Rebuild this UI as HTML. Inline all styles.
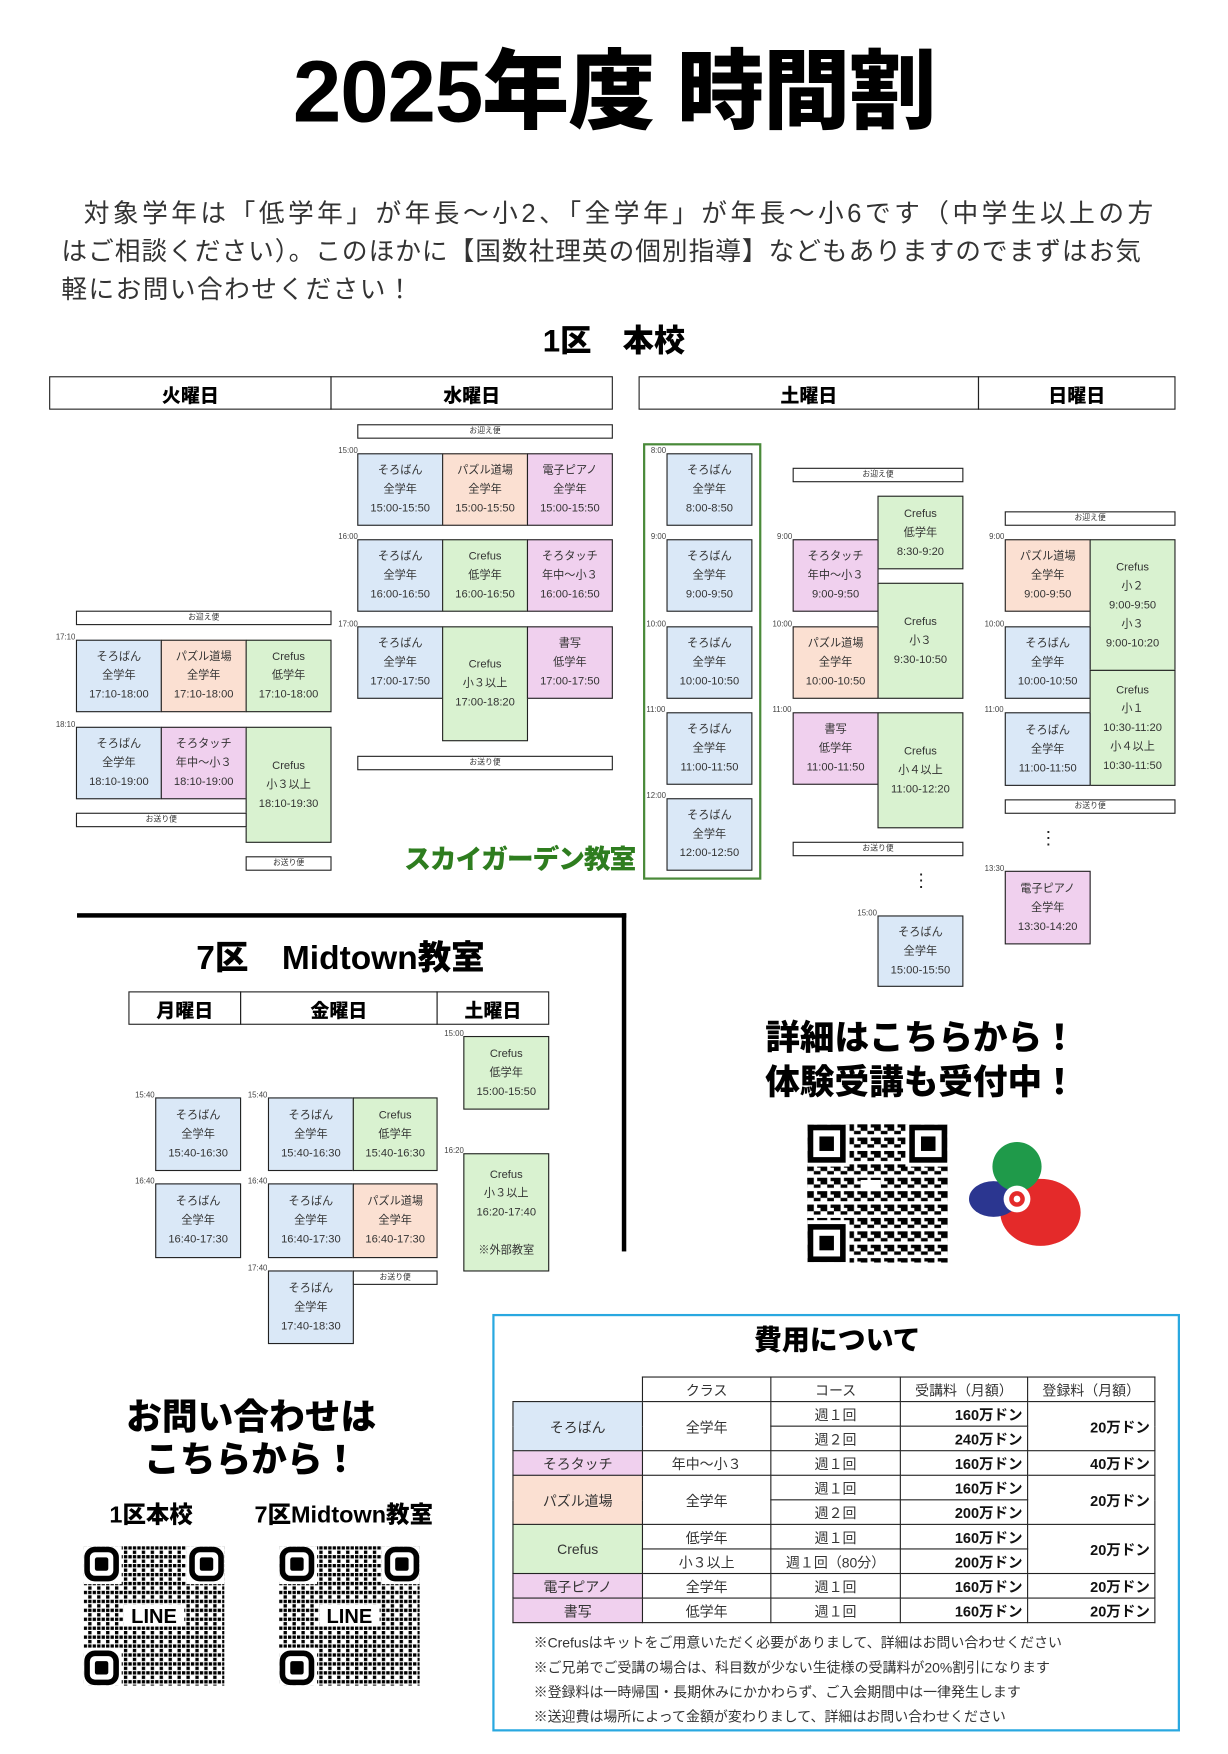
<!DOCTYPE html>
<html><head><meta charset="utf-8">
<style>
html,body{margin:0;padding:0;background:#fff;width:1228px;height:1754px;overflow:hidden}
#w{position:absolute;left:0;top:0;width:1100px;height:1571px;transform:scale(1.11636);transform-origin:0 0;font-family:"Liberation Sans","Noto Sans CJK JP",sans-serif;color:#222}
.a{position:absolute}
.b{position:absolute;box-sizing:border-box;border:1.3px solid #222;display:flex;flex-direction:column;justify-content:center;align-items:center;font-size:10px;line-height:17px;color:#333;text-align:center}
.BL{background:#dae8f7}.OR{background:#fbe0d2}.PK{background:#f0d0ee}.GR{background:#d9f2d0}
.bus{position:absolute;box-sizing:border-box;border:1.2px solid #222;height:13px;font-size:7px;line-height:11px;text-align:center;color:#333;background:#fff}
.t{position:absolute;font-size:7px;color:#444}
.h{position:absolute;box-sizing:border-box;border:1.3px solid #222;display:flex;align-items:center;justify-content:center;font-weight:900;font-size:17px;color:#000}
.hv{font-weight:900;color:#000;font-family:"Liberation Sans","Noto Sans CJK JP",sans-serif}
.p{position:absolute;font-size:23px;color:#333;white-space:nowrap}
.j{text-align:justify;text-align-last:justify;white-space:normal}
table.f{position:absolute;left:459px;top:1233px;border-collapse:collapse;font-size:12.5px;color:#333}
table.f td{border:1.3px solid #222;height:21px;padding:0;text-align:center}
table.f td.r{text-align:right;font-weight:700;padding-right:4px;color:#111;font-size:13px}
.n{position:absolute;left:478px;font-size:12.5px;color:#333;white-space:nowrap}
</style></head><body><div id="w">

<div class="a hv" style="left:0;width:1100px;top:34px;text-align:center;font-size:78px;line-height:96px;letter-spacing:-1px">2025年度 時間割</div>

<div class="p j" style="top:172px;left:75px;width:958px">対象学年は「低学年」が年長～小2、「全学年」が年長～小6です（中学生以上の方</div>
<div class="p j" style="top:206px;left:55px;width:967px">はご相談ください）。このほかに【国数社理英の個別指導】などもありますのでまずはお気</div>
<div class="p" style="top:240px;left:55px;letter-spacing:1.3px">軽にお問い合わせください！</div>

<div class="a hv" style="left:450px;width:200px;top:288px;text-align:center;font-size:28px;line-height:36px">1区　本校</div>

<div class="h" style="left:44px;top:337px;width:253px;height:30px">火曜日</div>
<div class="h" style="left:296px;top:337px;width:253px;height:30px">水曜日</div>
<div class="h" style="left:572px;top:337px;width:305px;height:30px">土曜日</div>
<div class="h" style="left:876px;top:337px;width:177px;height:30px">日曜日</div>

<!-- Tue -->
<div class="bus" style="left:68px;top:547px;width:229px">お迎え便</div>
<div class="t" style="left:50px;top:568px">17:10</div>
<div class="b BL" style="left:68px;top:573px;width:77px;height:65px">そろばん<br>全学年<br>17:10-18:00</div>
<div class="b OR" style="left:144px;top:573px;width:77px;height:65px">パズル道場<br>全学年<br>17:10-18:00</div>
<div class="b GR" style="left:220px;top:573px;width:77px;height:65px">Crefus<br>低学年<br>17:10-18:00</div>
<div class="t" style="left:50px;top:646px">18:10</div>
<div class="b BL" style="left:68px;top:651px;width:77px;height:65px">そろばん<br>全学年<br>18:10-19:00</div>
<div class="b PK" style="left:144px;top:651px;width:77px;height:65px">そろタッチ<br>年中～小３<br>18:10-19:00</div>
<div class="b GR" style="left:220px;top:651px;width:77px;height:104px">Crefus<br>小３以上<br>18:10-19:30</div>
<div class="bus" style="left:68px;top:728px;width:153px">お送り便</div>
<div class="bus" style="left:220px;top:767px;width:77px">お送り便</div>

<!-- Wed -->
<div class="bus" style="left:320px;top:380px;width:229px">お迎え便</div>
<div class="t" style="left:303px;top:401px">15:00</div>
<div class="b BL" style="left:320px;top:406px;width:77px;height:65px">そろばん<br>全学年<br>15:00-15:50</div>
<div class="b OR" style="left:396px;top:406px;width:77px;height:65px">パズル道場<br>全学年<br>15:00-15:50</div>
<div class="b PK" style="left:472px;top:406px;width:77px;height:65px">電子ピアノ<br>全学年<br>15:00-15:50</div>
<div class="t" style="left:303px;top:478px">16:00</div>
<div class="b BL" style="left:320px;top:483px;width:77px;height:65px">そろばん<br>全学年<br>16:00-16:50</div>
<div class="b GR" style="left:396px;top:483px;width:77px;height:65px">Crefus<br>低学年<br>16:00-16:50</div>
<div class="b PK" style="left:472px;top:483px;width:77px;height:65px">そろタッチ<br>年中～小３<br>16:00-16:50</div>
<div class="t" style="left:303px;top:556px">17:00</div>
<div class="b BL" style="left:320px;top:561px;width:77px;height:65px">そろばん<br>全学年<br>17:00-17:50</div>
<div class="b GR" style="left:396px;top:561px;width:77px;height:103px">Crefus<br>小３以上<br>17:00-18:20</div>
<div class="b PK" style="left:472px;top:561px;width:77px;height:65px">書写<br>低学年<br>17:00-17:50</div>
<div class="bus" style="left:320px;top:677px;width:229px">お送り便</div>

<div class="a hv" style="left:362px;top:754px;font-size:24px;line-height:34px;color:#2e7d1f;letter-spacing:-1px">スカイガーデン教室</div>

<!-- Sat -->
<div class="a" style="left:576px;top:397px;width:102px;height:387px;border:2px solid #4a8a3a"></div>
<div class="t" style="left:583px;top:401px">8:00</div>
<div class="b BL" style="left:597px;top:406px;width:77px;height:65px">そろばん<br>全学年<br>8:00-8:50</div>
<div class="t" style="left:583px;top:478px">9:00</div>
<div class="b BL" style="left:597px;top:483px;width:77px;height:65px">そろばん<br>全学年<br>9:00-9:50</div>
<div class="t" style="left:579px;top:556px">10:00</div>
<div class="b BL" style="left:597px;top:561px;width:77px;height:65px">そろばん<br>全学年<br>10:00-10:50</div>
<div class="t" style="left:579px;top:633px">11:00</div>
<div class="b BL" style="left:597px;top:638px;width:77px;height:65px">そろばん<br>全学年<br>11:00-11:50</div>
<div class="t" style="left:579px;top:710px">12:00</div>
<div class="b BL" style="left:597px;top:715px;width:77px;height:65px">そろばん<br>全学年<br>12:00-12:50</div>

<div class="bus" style="left:710px;top:419px;width:153px">お迎え便</div>
<div class="b GR" style="left:786px;top:444px;width:77px;height:66px">Crefus<br>低学年<br>8:30-9:20</div>
<div class="t" style="left:696px;top:478px">9:00</div>
<div class="b PK" style="left:710px;top:483px;width:77px;height:65px">そろタッチ<br>年中～小３<br>9:00-9:50</div>
<div class="b GR" style="left:786px;top:522px;width:77px;height:104px">Crefus<br>小３<br>9:30-10:50</div>
<div class="t" style="left:692px;top:556px">10:00</div>
<div class="b OR" style="left:710px;top:561px;width:77px;height:65px">パズル道場<br>全学年<br>10:00-10:50</div>
<div class="t" style="left:692px;top:633px">11:00</div>
<div class="b PK" style="left:710px;top:638px;width:77px;height:65px">書写<br>低学年<br>11:00-11:50</div>
<div class="b GR" style="left:786px;top:638px;width:77px;height:104px">Crefus<br>小４以上<br>11:00-12:20</div>
<div class="bus" style="left:710px;top:754px;width:153px">お送り便</div>
<div class="a" style="left:817px;top:780px;font-size:16px;line-height:20px">⋮</div>
<div class="t" style="left:768px;top:815px">15:00</div>
<div class="b BL" style="left:786px;top:820px;width:77px;height:64px">そろばん<br>全学年<br>15:00-15:50</div>

<!-- Sun -->
<div class="bus" style="left:900px;top:458px;width:153px">お迎え便</div>
<div class="t" style="left:886px;top:478px">9:00</div>
<div class="b OR" style="left:900px;top:483px;width:77px;height:65px">パズル道場<br>全学年<br>9:00-9:50</div>
<div class="b GR" style="left:976px;top:483px;width:77px;height:118px">Crefus<br>小２<br>9:00-9:50<br>小３<br>9:00-10:20</div>
<div class="t" style="left:882px;top:556px">10:00</div>
<div class="b BL" style="left:900px;top:561px;width:77px;height:65px">そろばん<br>全学年<br>10:00-10:50</div>
<div class="b GR" style="left:976px;top:600px;width:77px;height:104px">Crefus<br>小１<br>10:30-11:20<br>小４以上<br>10:30-11:50</div>
<div class="t" style="left:882px;top:633px">11:00</div>
<div class="b BL" style="left:900px;top:638px;width:77px;height:66px">そろばん<br>全学年<br>11:00-11:50</div>
<div class="bus" style="left:900px;top:716px;width:153px">お送り便</div>
<div class="a" style="left:931px;top:742px;font-size:16px;line-height:20px">⋮</div>
<div class="t" style="left:882px;top:775px">13:30</div>
<div class="b PK" style="left:900px;top:780px;width:77px;height:66px">電子ピアノ<br>全学年<br>13:30-14:20</div>

<!-- Midtown -->
<div class="a" style="left:69px;top:818px;width:492px;height:4px;background:#000"></div>
<div class="a" style="left:557px;top:818px;width:4px;height:303px;background:#000"></div>
<div class="a hv" style="left:120px;width:370px;top:838px;text-align:center;font-size:30px;line-height:42px">7区　Midtown教室</div>
<div class="h" style="left:115px;top:888px;width:101px;height:30px">月曜日</div>
<div class="h" style="left:215px;top:888px;width:177px;height:30px">金曜日</div>
<div class="h" style="left:391px;top:888px;width:101px;height:30px">土曜日</div>

<div class="t" style="left:121px;top:978px">15:40</div>
<div class="b BL" style="left:139px;top:983px;width:77px;height:66px">そろばん<br>全学年<br>15:40-16:30</div>
<div class="t" style="left:121px;top:1055px">16:40</div>
<div class="b BL" style="left:139px;top:1060px;width:77px;height:67px">そろばん<br>全学年<br>16:40-17:30</div>
<div class="t" style="left:222px;top:978px">15:40</div>
<div class="b BL" style="left:240px;top:983px;width:77px;height:66px">そろばん<br>全学年<br>15:40-16:30</div>
<div class="b GR" style="left:316px;top:983px;width:76px;height:66px">Crefus<br>低学年<br>15:40-16:30</div>
<div class="t" style="left:222px;top:1055px">16:40</div>
<div class="b BL" style="left:240px;top:1060px;width:77px;height:67px">そろばん<br>全学年<br>16:40-17:30</div>
<div class="b OR" style="left:316px;top:1060px;width:76px;height:67px">パズル道場<br>全学年<br>16:40-17:30</div>
<div class="t" style="left:222px;top:1133px">17:40</div>
<div class="b BL" style="left:240px;top:1138px;width:77px;height:66px">そろばん<br>全学年<br>17:40-18:30</div>
<div class="bus" style="left:316px;top:1138px;width:76px">お送り便</div>
<div class="t" style="left:398px;top:923px">15:00</div>
<div class="b GR" style="left:415px;top:928px;width:77px;height:66px">Crefus<br>低学年<br>15:00-15:50</div>
<div class="t" style="left:398px;top:1028px">16:20</div>
<div class="b GR" style="left:415px;top:1033px;width:77px;height:106px">Crefus<br>小３以上<br>16:20-17:40<br><br>※外部教室</div>

<!-- Right promo -->
<div class="a hv" style="left:670px;width:310px;top:910px;text-align:center;font-size:31px;line-height:40px">詳細はこちらから！<br>体験受講も受付中！</div>
<svg class="a" style="left:723px;top:1007px" width="126" height="124" viewBox="0 0 126 124">
<defs><pattern id="q1" width="12" height="12" patternUnits="userSpaceOnUse"><rect x="0" y="0" width="6" height="6" fill="#000"/><rect x="6" y="6" width="6" height="3" fill="#000"/><rect x="9" y="0" width="3" height="3" fill="#000"/></pattern></defs>
<rect x="0" y="0" width="126" height="124" fill="url(#q1)"/>
<g fill="#fff"><rect x="0" y="0" width="38" height="38"/><rect x="88" y="0" width="38" height="38"/><rect x="0" y="86" width="38" height="38"/><rect x="48" y="50" width="18" height="10"/></g>
<g fill="none" stroke="#000" stroke-width="5"><rect x="3" y="3" width="29" height="29"/><rect x="94" y="3" width="29" height="29"/><rect x="3" y="92" width="29" height="29"/></g>
<g fill="#000"><rect x="11" y="11" width="13" height="13"/><rect x="102" y="11" width="13" height="13"/><rect x="11" y="100" width="13" height="13"/></g>
</svg>
<svg class="a" style="left:862px;top:1022px" width="110" height="96" viewBox="0 0 110 96">
<ellipse cx="70" cy="64" rx="36" ry="30" fill="#e42a2a"/>
<ellipse cx="28" cy="52" rx="22" ry="16" fill="#2b3690"/>
<circle cx="49" cy="23" r="22" fill="#1f9a4a"/>
<circle cx="49" cy="52" r="12" fill="#fff"/>
<circle cx="49" cy="52" r="7" fill="#e42a2a"/>
<circle cx="49" cy="52" r="3" fill="#fff"/>
</svg>

<!-- Fee box -->
<div class="a" style="left:441px;top:1177px;width:612px;height:370px;border:2px solid #29a8e0"></div>
<div class="a hv" style="left:600px;width:300px;top:1184px;text-align:center;font-size:25px;line-height:34px">費用について</div>
<table class="f">
<colgroup><col style="width:116px"><col style="width:115px"><col style="width:116px"><col style="width:114px"><col style="width:114px"></colgroup>
<tr><td style="border:none;border-bottom:1.3px solid #222"></td><td>クラス</td><td>コース</td><td>受講料（月額）</td><td>登録料（月額）</td></tr>
<tr><td rowspan="2" class="BL">そろばん</td><td rowspan="2">全学年</td><td>週１回</td><td class="r">160万ドン</td><td rowspan="2" class="r">20万ドン</td></tr>
<tr><td>週２回</td><td class="r">240万ドン</td></tr>
<tr><td class="PK">そろタッチ</td><td>年中～小３</td><td>週１回</td><td class="r">160万ドン</td><td class="r">40万ドン</td></tr>
<tr><td rowspan="2" class="OR">パズル道場</td><td rowspan="2">全学年</td><td>週１回</td><td class="r">160万ドン</td><td rowspan="2" class="r">20万ドン</td></tr>
<tr><td>週２回</td><td class="r">200万ドン</td></tr>
<tr><td rowspan="2" class="GR">Crefus</td><td>低学年</td><td>週１回</td><td class="r">160万ドン</td><td rowspan="2" class="r">20万ドン</td></tr>
<tr><td>小３以上</td><td>週１回（80分）</td><td class="r">200万ドン</td></tr>
<tr><td class="PK">電子ピアノ</td><td>全学年</td><td>週１回</td><td class="r">160万ドン</td><td class="r">20万ドン</td></tr>
<tr><td class="PK">書写</td><td>低学年</td><td>週１回</td><td class="r">160万ドン</td><td class="r">20万ドン</td></tr>
</table>
<div class="n" style="top:1461px">※Crefusはキットをご用意いただく必要がありまして、詳細はお問い合わせください</div>
<div class="n" style="top:1483px">※ご兄弟でご受講の場合は、科目数が少ない生徒様の受講料が20%割引になります</div>
<div class="n" style="top:1505px">※登録料は一時帰国・長期休みにかかわらず、ご入会期間中は一律発生します</div>
<div class="n" style="top:1527px">※送迎費は場所によって金額が変わりまして、詳細はお問い合わせください</div>

<!-- Contact -->
<div class="a hv" style="left:90px;width:270px;top:1250px;text-align:center;font-size:32px;line-height:38px">お問い合わせは<br>こちらから！</div>
<div class="a hv" style="left:98px;top:1344px;font-size:21px;line-height:28px">1区本校</div>
<div class="a hv" style="left:228px;top:1344px;font-size:21px;line-height:28px">7区Midtown教室</div>
<svg class="a" style="left:75px;top:1385px" width="126" height="125" viewBox="0 0 126 125">
<defs><pattern id="q2" width="8" height="8" patternUnits="userSpaceOnUse"><rect x="0" y="0" width="3" height="3" fill="#000"/><rect x="4" y="4" width="3" height="3" fill="#000"/><rect x="4" y="0" width="3" height="3" fill="#000"/></pattern></defs>
<rect width="126" height="125" fill="url(#q2)"/>
<g fill="#fff"><rect width="34" height="34"/><rect x="92" width="34" height="34"/><rect y="91" width="34" height="34"/><rect x="36" y="52" width="54" height="20"/></g>
<g fill="none" stroke="#000" stroke-width="5"><rect x="3" y="3" width="26" height="26" rx="7"/><rect x="97" y="3" width="26" height="26" rx="7"/><rect x="3" y="96" width="26" height="26" rx="7"/></g>
<g fill="#000"><rect x="10" y="10" width="12" height="12" rx="2"/><rect x="104" y="10" width="12" height="12" rx="2"/><rect x="10" y="103" width="12" height="12" rx="2"/></g>
<text x="63" y="69" text-anchor="middle" font-family="Liberation Sans" font-weight="bold" font-size="18" fill="#000">LINE</text>
</svg>
<svg class="a" style="left:250px;top:1385px" width="126" height="125" viewBox="0 0 126 125">
<rect width="126" height="125" fill="url(#q2)"/>
<g fill="#fff"><rect width="34" height="34"/><rect x="92" width="34" height="34"/><rect y="91" width="34" height="34"/><rect x="36" y="52" width="54" height="20"/></g>
<g fill="none" stroke="#000" stroke-width="5"><rect x="3" y="3" width="26" height="26" rx="7"/><rect x="97" y="3" width="26" height="26" rx="7"/><rect x="3" y="96" width="26" height="26" rx="7"/></g>
<g fill="#000"><rect x="10" y="10" width="12" height="12" rx="2"/><rect x="104" y="10" width="12" height="12" rx="2"/><rect x="10" y="103" width="12" height="12" rx="2"/></g>
<text x="63" y="69" text-anchor="middle" font-family="Liberation Sans" font-weight="bold" font-size="18" fill="#000">LINE</text>
</svg>

</div></body></html>
